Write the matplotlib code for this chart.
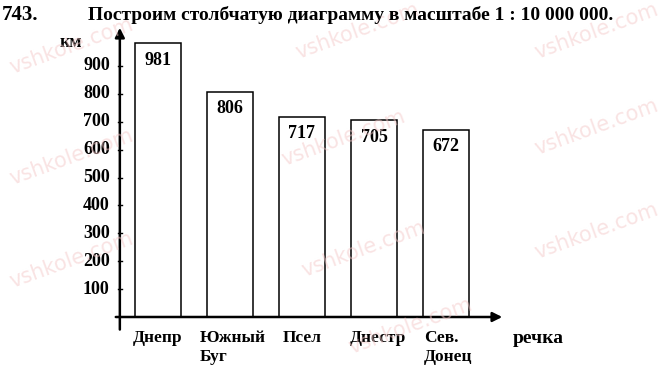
"""Bar chart: lengths of Ukrainian rivers (textbook exercise 743)."""
import matplotlib.pyplot as plt
import numpy as np

plt.rcParams.update({"font.family": ["Liberation Serif", "DejaVu Serif"],
                     "font.weight": "bold", "font.size": 13})

rivers = ["Днепр", "Южный\nБуг", "Псел", "Днестр", "Сев.\nДонец"]
lengths = [981, 806, 717, 705, 672]
yticks = [100, 200, 300, 400, 500, 600, 700, 800, 900]

W, H = 665, 369
fig = plt.figure(figsize=(W / 100, H / 100), dpi=100)

# faint watermark, as on the scanned page
for wx, wy in [(0.01, 0.80), (0.44, 0.84), (0.80, 0.84), (0.01, 0.50), (0.42, 0.55),
               (0.80, 0.58), (0.01, 0.22), (0.45, 0.25), (0.80, 0.30), (0.52, 0.04)]:
    fig.text(wx, wy, "vshkole.com", color="#f4c8c8", alpha=0.5, fontsize=15,
             rotation=20, weight="normal", family="DejaVu Sans", zorder=0)

fig.text(0.003, 0.945, "743.", fontsize=15, weight="heavy")
fig.text(0.132, 0.945, "Построим столбчатую диаграмму в масштабе 1 : 10 000 000.",
         fontsize=14)

x0, x1 = 113, 505
ax = fig.add_axes([x0 / W, (H - 317) / H, (x1 - x0) / W, (317 - 25) / H])
ax.patch.set_alpha(0)
x = np.arange(len(rivers))
ax.set_xlim(-0.625, 4.82)
ax.set_ylim(0, 1047)
for s in ax.spines.values():
    s.set_visible(False)

bars = ax.bar(x, lengths, width=0.64, facecolor="white", edgecolor="black", linewidth=1.1)
for rect, v in zip(bars, lengths):
    ax.text(rect.get_x() + rect.get_width() / 2, v - 60, str(v), ha="center", va="center")

yx = -0.53
# axes with arrows
ax.annotate("", xy=(yx, 1047), xytext=(yx, -55), xycoords="data",
            arrowprops=dict(arrowstyle="-|>", color="black", lw=1.8, mutation_scale=14),
            annotation_clip=False)
ax.annotate("", xy=(4.82, 0), xytext=(-0.625, 0),
            arrowprops=dict(arrowstyle="-|>", color="black", lw=1.8, mutation_scale=14),
            annotation_clip=False)

ax.set_xticks([])
ax.set_yticks([])
for t in yticks:
    ax.plot([yx - 0.03, yx + 0.03], [t, t], color="black", lw=1)
    ax.text(yx - 0.14, t, str(t), ha="right", va="center")
ax.text(yx - 0.68, 985, "км", ha="center", va="center")

# two-line labels are left-aligned under their bars, as in the book
shift = {1: -0.42, 3: 0.06, 4: -0.31}
for xi, name in zip(x, rivers):
    two = "\n" in name
    ax.text(xi + shift.get(xi, 0), -45, name, ha="left" if two else "center",
            va="top", linespacing=1.3, fontsize=12.5)
ax.text(4.93, -45, "речка", ha="left", va="top", fontsize=14)

fig.savefig("out.png", dpi=100)
